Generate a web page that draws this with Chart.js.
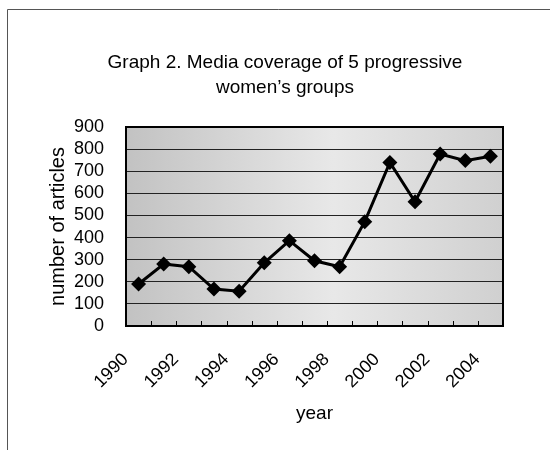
<!DOCTYPE html>
<html>
<head>
<meta charset="utf-8">
<script src="https://cdn.jsdelivr.net/npm/chart.js@4.4.1/dist/chart.umd.min.js"></script>
<style>
  html, body { margin: 0; padding: 0; background: #fff; }
  #wrap { width: 550px; height: 450px; position: relative; }
</style>
</head>
<body>
<div id="wrap"><canvas id="chart" width="550" height="450"></canvas></div>
<script>
// Chart data
const years = ['1990', '1991', '1992', '1993', '1994', '1995', '1996', '1997',
               '1998', '1999', '2000', '2001', '2002', '2003', '2004'];
const articles = [190, 280, 268, 167, 157, 286, 386, 295, 268, 472, 740, 562, 778, 748, 768];
const titleLines = ['Graph 2. Media coverage of 5 progressive', 'women\u2019s groups'];

const FONT = '"Liberation Sans", Arial, sans-serif';

// Frame, title, plot background, border and inner tick marks
const decor = {
    id: 'decor',
    beforeDraw(chart) {
        const { ctx, chartArea: a } = chart;
        ctx.save();
        ctx.strokeStyle = '#555';
        ctx.lineWidth = 1;
        ctx.beginPath();
        ctx.moveTo(7.5, 450);
        ctx.lineTo(7.5, 9.5);
        ctx.lineTo(550, 9.5);
        ctx.stroke();

        // title, centred a little right of the plot like the original
        ctx.fillStyle = '#000';
        ctx.font = '19px ' + FONT;
        ctx.textAlign = 'center';
        ctx.textBaseline = 'middle';
        titleLines.forEach((t, i) => ctx.fillText(t, 285, 63 + i * 25));

        const g = ctx.createLinearGradient(a.left, 0, a.right, 0);
        g.addColorStop(0, '#c2c2c2');
        g.addColorStop(0.55, '#e8e8e8');
        g.addColorStop(1, '#d0d0d0');
        ctx.fillStyle = g;
        ctx.fillRect(a.left, a.top, a.right - a.left, a.bottom - a.top);
        ctx.restore();
    },
    afterDatasetsDraw(chart) {
        const { ctx, chartArea: a } = chart;
        const x = chart.scales.x;
        ctx.save();
        ctx.strokeStyle = '#000';
        ctx.lineWidth = 1;
        ctx.beginPath();
        for (let i = 1; i < years.length; i++) {
            const px = Math.round(x.getPixelForValue(i - 0.5)) + 0.5;
            ctx.moveTo(px, a.bottom);
            ctx.lineTo(px, a.bottom - 5);
        }
        ctx.stroke();
        ctx.lineWidth = 2;
        ctx.strokeRect(a.left, a.top, a.right - a.left, a.bottom - a.top);
        ctx.restore();
    }
};

new Chart(document.getElementById('chart'), {
    type: 'line',
    data: {
        labels: years,
        datasets: [{
            data: articles,
            borderColor: '#000',
            borderWidth: 3,
            backgroundColor: '#000',
            pointStyle: 'rectRot',
            pointRadius: 7.5,
            pointBorderWidth: 0,
            pointBackgroundColor: '#000',
            tension: 0,
            fill: false
        }]
    },
    options: {
        responsive: false,
        animation: false,
        devicePixelRatio: 1,
        layout: { padding: { left: 46, right: 47, top: 127, bottom: 25 } },
        plugins: {
            legend: { display: false },
            tooltip: { enabled: false },
            title: { display: false }
        },
        scales: {
            x: {
                offset: true,
                grid: { display: false, drawTicks: false },
                border: { display: false },
                ticks: {
                    autoSkip: false,
                    maxRotation: 45,
                    minRotation: 45,
                    padding: 23,
                    labelOffset: -13,
                    color: '#000',
                    font: { family: FONT, size: 18 },
                    callback: (v, i) => (i % 2 === 0 ? years[i] : '')
                },
                title: {
                    display: true,
                    text: 'year',
                    color: '#000',
                    font: { family: FONT, size: 19 },
                    padding: { top: 6, bottom: 0 }
                },
                afterFit: s => { s.height = 99; }
            },
            y: {
                min: 0,
                max: 900,
                grid: { color: '#222', lineWidth: 1, drawTicks: false },
                border: { display: false },
                ticks: {
                    stepSize: 100,
                    autoSkip: false,
                    padding: 22,
                    color: '#000',
                    font: { family: FONT, size: 18 }
                },
                title: {
                    display: true,
                    text: 'number of articles',
                    color: '#000',
                    font: { family: FONT, size: 20 },
                    padding: { top: 0, bottom: 0 }
                },
                afterFit: s => { s.width = 80; }
            }
        }
    },
    plugins: [decor]
});
</script>
</body>
</html>
